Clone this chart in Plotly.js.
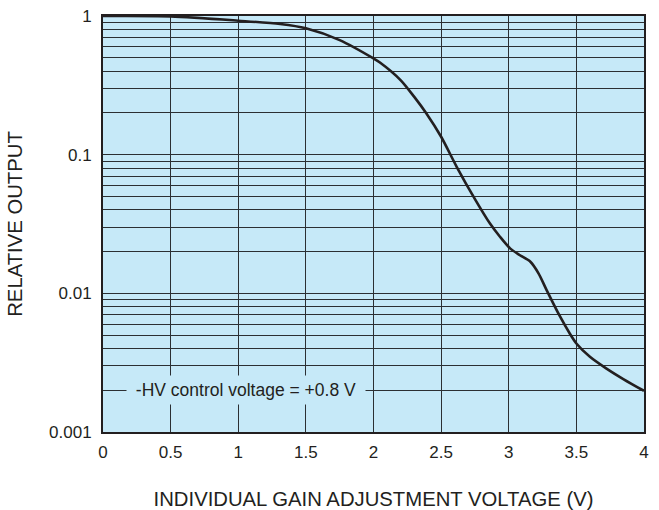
<!DOCTYPE html>
<html>
<head>
<meta charset="utf-8">
<script src="https://cdn.plot.ly/plotly-3.0.1.min.js"></script>
<style>html,body{margin:0;padding:0;background:#fff;}#chart{width:659px;height:510px;}</style>
</head>
<body>
<div id="chart"></div>
<script>
const voltage = [0, 0.5, 1.0, 1.31, 1.5, 1.75, 2.0, 2.05, 2.2, 2.3, 2.39, 2.5, 2.615, 2.75, 2.86, 2.935, 3.01, 3.08, 3.16, 3.22, 3.28, 3.38, 3.45, 3.5, 3.6, 3.72, 3.85, 4.0];
const relOutput = [1.0, 0.993, 0.925, 0.875, 0.815, 0.67, 0.494, 0.460, 0.345, 0.262, 0.199, 0.1346, 0.0818, 0.0478, 0.0320, 0.0256, 0.0211, 0.0189, 0.0169, 0.01394, 0.01056, 0.00678, 0.00515, 0.00435, 0.00349, 0.00288, 0.0024, 0.00198];
const xTicks = [0, 0.5, 1, 1.5, 2, 2.5, 3, 3.5, 4];
const xTickText = ["0", "0.5", "1", "1.5", "2", "2.5", "3", "3.5", "4"];
const decades = [0.001, 0.01, 0.1, 1];
const decadeText = ["0.001", "0.01", "0.1", "1"];
const noteText = "-HV control voltage = +0.8 V";

const yTickVals = [];
const yTickText = [];
for (let d = 0; d < decades.length; d++) {
  const base = decades[d];
  const maxK = (d === decades.length - 1) ? 1 : 9;
  for (let k = 1; k <= maxK; k++) {
    yTickVals.push(base * k);
    yTickText.push(k === 1 ? decadeText[d] : "");
  }
}

const font = {family: "Liberation Sans, Arial, Helvetica, sans-serif", color: "#231f20"};

const data = [{
  x: voltage, y: relOutput, type: "scatter", mode: "lines",
  line: {color: "#231f20", width: 2.6, shape: "spline", smoothing: 0.8},
  hoverinfo: "skip"
}];

const layout = {
  width: 659, height: 510,
  margin: {l: 103, r: 15, t: 16, b: 78},
  paper_bgcolor: "#ffffff",
  plot_bgcolor: "#c6e9f8",
  showlegend: false,
  font: Object.assign({size: 17}, font),
  xaxis: {
    range: [0, 4], tickvals: xTicks, ticktext: xTickText,
    showgrid: true, gridcolor: "#2b2f33", gridwidth: 1,
    zeroline: false, showline: true, linecolor: "#231f20", linewidth: 2, mirror: true,
    ticks: "", ticklabelstandoff: 4, tickfont: Object.assign({size: 17}, font),
    title: {text: "INDIVIDUAL GAIN ADJUSTMENT VOLTAGE (V)", font: Object.assign({size: 20.3}, font), standoff: 32},
    automargin: false
  },
  yaxis: {
    type: "log", range: [-3, 0], tickvals: yTickVals, ticktext: yTickText,
    showgrid: true, gridcolor: "#2b2f33", gridwidth: 1,
    zeroline: false, showline: true, linecolor: "#231f20", linewidth: 2, mirror: true,
    ticks: "", ticklabelstandoff: 6, tickfont: Object.assign({size: 17}, font),
    title: {text: "RELATIVE OUTPUT", font: Object.assign({size: 20.3}, font), standoff: 21},
    automargin: false
  },
  annotations: [{
    x: 1.057, y: Math.log10(0.002), xref: "x", yref: "y",
    text: " " + noteText + " ", showarrow: false,
    font: Object.assign({size: 17.5}, font),
    bgcolor: "#c6e9f8", borderpad: 4
  }]
};

Plotly.newPlot("chart", data, layout, {displayModeBar: false, staticPlot: true});
</script>
</body>
</html>
